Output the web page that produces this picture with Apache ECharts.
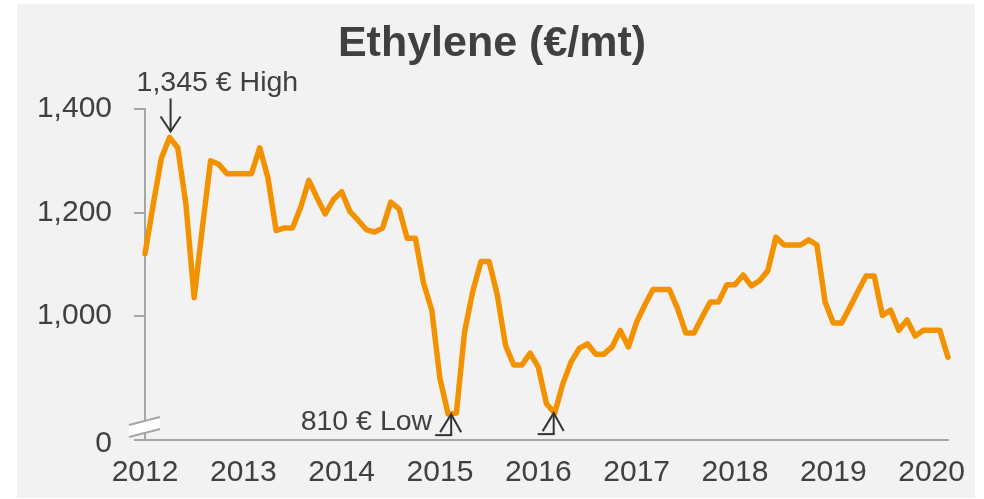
<!DOCTYPE html>
<html><head><meta charset="utf-8">
<script src="https://cdn.jsdelivr.net/npm/echarts@6/dist/echarts.min.js"></script>
<style>
html,body{margin:0;padding:0;background:#fff;}
#bg{position:absolute;left:17px;top:4px;width:958px;height:494px;background:#f2f2f2;}
#c{position:absolute;left:0;top:0;width:984px;height:499px;}
</style>
</head><body><div id="bg"></div><div id="c"></div>
<script>
const titleText = 'Ethylene (€/mt)';
const startYear = 2012;
const prices = [
  1120, 1215, 1305, 1345, 1325, 1215, 1035, 1170, 1300, 1293, 1275, 1275,
  1275, 1275, 1325, 1267, 1165, 1170, 1170, 1210, 1262, 1228, 1197, 1225,
  1240, 1202, 1185, 1167, 1162, 1170, 1220, 1207, 1150, 1150, 1063, 1011,
  878, 810, 812, 969, 1047, 1105, 1105, 1040, 943, 905, 905, 928,
  901, 830, 812, 869, 911, 937, 946, 926, 926, 940, 972, 940,
  988, 1021, 1051, 1051, 1051, 1014, 967, 967, 998, 1027, 1027, 1060,
  1060, 1079, 1058, 1068, 1087, 1152, 1137, 1137, 1137, 1147, 1137, 1027,
  986, 986, 1016, 1047, 1077, 1077, 1001, 1011, 972, 992, 961, 972,
  972, 972, 920
];
const yMin = 760;          // axis break: bottom of axis shown as "0"
const yMax = 1400;
const yTickValues = [760, 1000, 1200, 1400];
const highIndex = 3;
const highLabel = '1,345 € High';
const lowIndices = [37, 50];
const lowLabel = '810 € Low';

const categories = prices.map((_, i) =>
  (startYear + Math.floor(i / 12)) + '-' + String(i % 12 + 1).padStart(2, '0'));

const FONT = '"Liberation Sans", Arial, sans-serif';
const TXT = '#404040';
const AX = '#a6a6a6';

const chart = echarts.init(document.getElementById('c'), null, {renderer: 'canvas'});
chart.setOption({
  backgroundColor: 'transparent',
  animation: false,
  title: {
    text: titleText, left: 'center', top: 18,
    textStyle: {fontFamily: FONT, fontSize: 43, fontWeight: 'bold', color: TXT}
  },
  grid: {left: 145, right: 36, top: 109, bottom: 59},
  xAxis: {
    type: 'category', data: categories, boundaryGap: false,
    axisLine: {lineStyle: {color: AX, width: 2}},
    axisTick: {show: false},
    axisLabel: {
      interval: (idx, val) => val.endsWith('-01'),
      formatter: v => v.slice(0, 4),
      fontFamily: FONT, fontSize: 30, color: TXT, margin: 18
    },
    splitLine: {show: false}
  },
  yAxis: {
    type: 'value', min: yMin, max: yMax,
    axisLine: {show: true, lineStyle: {color: AX, width: 2}},
    axisTick: {show: true, length: 11, customValues: yTickValues, lineStyle: {color: AX, width: 2}},
    axisLabel: {
      customValues: yTickValues,
      formatter: v => v === yMin ? '{z|0}' : v.toLocaleString('en-US'),
      rich: {z: {fontFamily: FONT, fontSize: 30, color: TXT, padding: [8, 0, 0, 0]}},
      fontFamily: FONT, fontSize: 30, color: TXT, margin: 33
    },
    splitLine: {show: false}
  },
  series: [{
    type: 'line', data: prices, symbol: 'none', smooth: false,
    lineStyle: {color: '#f39200', width: 5.5, join: 'round', cap: 'round'},
    z: 3
  }]
});

function px(i, v) { return chart.convertToPixel({gridIndex: 0}, [categories[i], v]); }
const origin = px(0, yMin);
const hp = px(highIndex, prices[highIndex]);
const stroke = {stroke: '#333', lineWidth: 2, fill: 'none'};
const g = [];
// axis break symbol
const ox = origin[0], oy = origin[1];
g.push({type: 'polygon', z: 20, shape: {points: [[ox-16, oy-15], [ox+15, oy-23], [ox+15, oy-11], [ox-16, oy-3]]}, style: {fill: '#ffffff'}});
g.push({type: 'line', z: 21, shape: {x1: ox-16, y1: oy-15, x2: ox+15, y2: oy-23}, style: {stroke: AX, lineWidth: 2}});
g.push({type: 'line', z: 21, shape: {x1: ox-16, y1: oy-3, x2: ox+15, y2: oy-11}, style: {stroke: AX, lineWidth: 2}});
// high annotation
const tx = hp[0] + 1, ty = hp[1] - 6;
g.push({type: 'polyline', z: 20, shape: {points: [[tx, ty-33], [tx, ty]]}, style: stroke});
g.push({type: 'polyline', z: 20, shape: {points: [[tx-10, ty-15], [tx, ty], [tx+10, ty-15]]}, style: stroke});
g.push({type: 'text', z: 20, x: hp[0] - 33, y: hp[1] - 54,
  style: {text: highLabel, fontFamily: FONT, fontSize: 28.5, fill: TXT, verticalAlign: 'middle', align: 'left'}});
// low annotations
lowIndices.forEach((li, k) => {
  const p = px(li, prices[li]);
  const ax = p[0] + (k === 0 ? 3 : -1), ay = p[1];
  g.push({type: 'polyline', z: 20, shape: {points: [[ax, ay], [ax, ay+21]]}, style: stroke});
  g.push({type: 'polyline', z: 20, shape: {points: [[ax-11, ay+18], [ax, ay], [ax+10, ay+18]]}, style: stroke});
  g.push({type: 'polyline', z: 20, shape: {points: [[ax-16, ay+21], [ax+1, ay+21]]}, style: stroke});
});
const lp = px(lowIndices[0], prices[lowIndices[0]]);
g.push({type: 'text', z: 20, x: lp[0] - 16, y: lp[1] + 8,
  style: {text: lowLabel, fontFamily: FONT, fontSize: 28.5, fill: TXT, verticalAlign: 'middle', align: 'right'}});
chart.setOption({graphic: g});
</script>
</body></html>
